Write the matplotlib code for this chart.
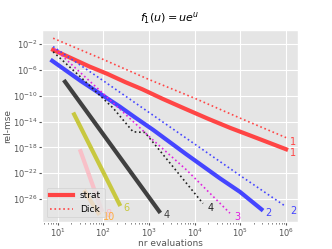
import numpy as np
import matplotlib
matplotlib.use("Agg")
import matplotlib.pyplot as plt
from matplotlib.ticker import FixedLocator, LogLocator, NullLocator

# values (log10 of n and of rel-mse)
strat1_n = [0.9, 1.3, 1.7, 2.08, 2.48, 2.85, 3.3, 3.78, 4.3, 4.78, 5.3, 6.0]
strat1_e = [-2.9, -4.2, -5.5, -6.6, -7.9, -9.0, -10.5, -12.0, -13.6, -15.0, -16.4, -18.3]
dick1_n = [0.9, 2.0, 3.0, 4.0, 5.0, 6.0]
dick1_e = [-1.1, -4.4, -7.5, -10.4, -13.5, -16.5]

strat2_n = [0.88, 1.5, 2.36, 2.7, 3.09, 3.8, 4.55, 4.99, 5.46]
strat2_e = [-4.6, -7.7, -11.7, -13.4, -15.3, -19.0, -22.8, -24.9, -27.6]
dick2_n = [0.9, 2.0, 3.0, 4.0, 5.0, 6.0]
dick2_e = [-2.4, -7.7, -12.6, -17.5, -22.4, -27.2]

dick3_n = [0.94, 2.0, 3.09, 3.82, 4.77]
dick3_e = [-2.8, -9.7, -16.9, -21.5, -28.2]
dick4_n = [0.9, 1.5, 2.22, 2.65, 2.91, 3.5, 4.18]
dick4_e = [-3.2, -7.1, -11.97, -15.6, -15.7, -20.8, -26.7]

strat4_n = [1.16, 3.22]
strat4_e = [-7.84, -27.9]
strat6_n = [1.36, 2.35]
strat6_e = [-12.9, -26.8]
strat8_n = [1.5, 1.96]
strat8_e = [-18.6, -27.7]
strat10_n = [1.6, 1.89]
strat10_e = [-24.9, -28.2]

plt.style.use("ggplot")
plt.rcParams["font.size"] = 7

fig = plt.figure(figsize=(3.32, 2.49), dpi=100)
ax = fig.add_axes([0.1265, 0.1084, 0.771, 0.771])

def p10(v):
    return 10.0 ** np.array(v)

red = "#ff4545"
blue = "#4545ff"

def draw(n, e, color, ls, lw, label, txt):
    x, y = p10(n), p10(e)
    ax.plot(x, y, color=color, ls=ls, lw=lw, label=label)
    ax.annotate(txt, (x[-1], y[-1]), xytext=(3, -3), textcoords="offset points",
                color=color, fontsize=7, ha="left", va="center")

draw(strat1_n, strat1_e, red, "-", 3, "strat", "1")
draw(dick1_n, dick1_e, red, ":", 1.2, "Dick", "1")
draw(strat2_n, strat2_e, blue, "-", 3, None, "2")
draw(dick2_n, dick2_e, blue, ":", 1.2, None, "2")
draw(dick3_n, dick3_e, "#e020e0", ":", 1.2, None, "3")
draw(dick4_n, dick4_e, "#222222", ":", 1.2, None, "4")
draw(strat4_n, strat4_e, "#404040", "-", 3, None, "4")
draw(strat6_n, strat6_e, "#c8c840", "-", 3, None, "6")
draw(strat8_n, strat8_e, "#f8c0c8", "-", 3, None, "8")
draw(strat10_n, strat10_e, "#ffaa40", "-", 3, None, "10")

ax.set_xscale("log")
ax.set_yscale("log")
ax.set_xlim(10 ** 0.656, 10 ** 6.26)
ax.set_ylim(10 ** -29.57, 10 ** 0.17)
ax.yaxis.set_major_locator(FixedLocator([10.0 ** k for k in range(-26, 0, 4)]))
ax.yaxis.set_minor_locator(NullLocator())
ax.xaxis.set_major_locator(LogLocator(base=10, numticks=10))
ax.xaxis.set_minor_locator(LogLocator(base=10, subs=np.arange(2, 10), numticks=20))
ax.tick_params(labelsize=6, colors="#555555", length=2, pad=1)
ax.tick_params(which="minor", length=1.5)

ax.set_title("$f_1(u) = ue^u$", fontsize=8)
ax.set_xlabel("nr evaluations", fontsize=6.5, labelpad=0)
ax.set_ylabel("rel-mse", fontsize=6.5, labelpad=1)
ax.legend(loc="lower left", fontsize=6.5, handlelength=2.5)

fig.savefig("out.png", dpi=100)
